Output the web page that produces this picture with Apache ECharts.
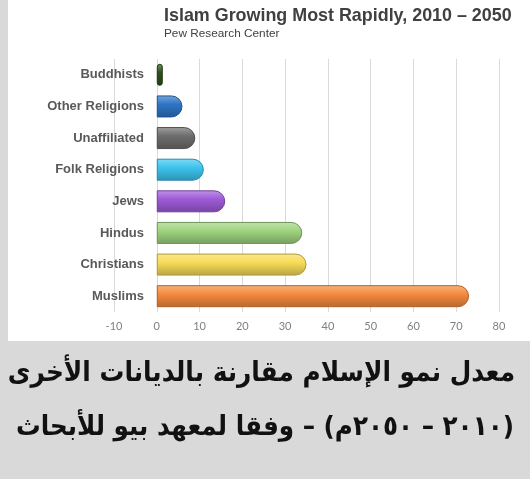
<!DOCTYPE html>
<html><head><meta charset="utf-8">
<script src="https://cdn.jsdelivr.net/npm/echarts@6/dist/echarts.min.js"></script>
<style>html,body{margin:0;padding:0;background:#d9d9d9}#c{width:530px;height:479px}</style>
</head><body><div id="c"></div>
<script>
const categories = ['Buddhists','Other Religions','Unaffiliated','Folk Religions','Jews','Hindus','Christians','Muslims'];
const values = [0, 6, 9, 11, 16, 34, 35, 73];
const palette = ['#2f4f1c','#2e75c6','#6d6d6d','#3cc4ee','#9e5bd8','#9fd47f','#f7dc58','#f58a3c'];
const xTicks = [-10, 0, 10, 20, 30, 40, 50, 60, 70, 80];
const titleText = 'Islam Growing Most Rapidly, 2010 – 2050';
const subText = 'Pew Research Center';
const caption1 = 'معدل نمو الإسلام مقارنة بالديانات الأخرى';
const caption2 = '(٢٠١٠ – ٢٠٥٠م) – وفقا لمعهد بيو للأبحاث';

function shade(hex, f){
  const n = parseInt(hex.slice(1),16);
  let r=(n>>16)&255,g=(n>>8)&255,b=n&255;
  if(f>0){r+= (255-r)*f; g+=(255-g)*f; b+=(255-b)*f;}
  else {r*=1+f; g*=1+f; b*=1+f;}
  return 'rgb('+Math.round(r)+','+Math.round(g)+','+Math.round(b)+')';
}
const chart = echarts.init(document.getElementById('c'));
chart.setOption({
  backgroundColor:'#d9d9d9',
  animation:false,
  title:{text:titleText, subtext:subText, left:164, top:7, itemGap:3, padding:0,
    textStyle:{fontFamily:'Liberation Sans', fontSize:17.9, fontWeight:'bold', color:'#404040'},
    subtextStyle:{fontFamily:'Liberation Sans', fontSize:11.8, color:'#404040'}},
  grid:{left:114, right:31, top:59, bottom:167, containLabel:false},
  xAxis:{type:'value', min:xTicks[0], max:xTicks[xTicks.length-1], interval:10,
    axisLine:{show:false}, axisTick:{show:false},
    splitLine:{show:true, lineStyle:{color:'#d9d9d9', width:1}},
    axisLabel:{color:'#808080', fontSize:11, fontFamily:'Lato', margin:9}},
  yAxis:{type:'category', data:categories, inverse:true, offset:-43,
    axisLine:{show:false}, axisTick:{show:false},
    axisLabel:{color:'#595959', fontSize:13, fontWeight:'bold', fontFamily:'Liberation Sans', margin:13}},
  graphic:[
    {type:'rect', z:-10, shape:{x:8,y:0,width:522,height:341}, style:{fill:'#ffffff'}},
    {type:'text', right:15, top:360, style:{text:'\u202B'+caption1+'\u202C', font:'bold 27.6px "DejaVu Sans Condensed"', fill:'#111111'}},
    {type:'text', right:16, top:414, style:{text:'\u202B'+caption2+'\u202C', font:'bold 27.4px "DejaVu Sans Condensed"', fill:'#111111'}}
  ],
  series:[{type:'bar', barWidth:22, barMinHeight:6,
    data: values.map((v,i)=>({value:v, itemStyle:{
      color:{type:'linear',x:0,y:0,x2:0,y2:1,colorStops:[
        {offset:0,color:shade(palette[i],0.35)},{offset:0.4,color:palette[i]},{offset:1,color:shade(palette[i],-0.25)}]},
      borderColor:shade(palette[i],-0.3), borderWidth:1,
      borderRadius: i===0 ? 11 : [0,11,11,0]}}))
  }]
});
</script></body></html>
